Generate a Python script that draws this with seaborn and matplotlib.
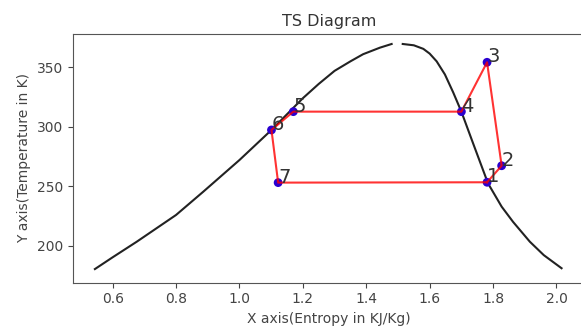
import matplotlib
matplotlib.use("Agg")
import matplotlib.pyplot as plt
import seaborn as sns
import pandas as pd

# Saturation dome
liq_s = [0.544, 0.60, 0.676, 0.80, 0.886, 1.00, 1.101, 1.20, 1.25, 1.30, 1.35, 1.39, 1.443, 1.48]
liq_T = [180.3, 190.2, 203.3, 225.8, 245.4, 272.0, 297.3, 324.0, 336.0, 347.0, 355.0, 361.0, 366.5, 369.6]
vap_s = [1.515, 1.55, 1.58, 1.60, 1.622, 1.648, 1.674, 1.70, 1.737, 1.784, 1.827, 1.863, 1.916, 1.96, 2.016]
vap_T = [369.6, 368.5, 365.5, 361.5, 355.0, 344.0, 329.0, 312.7, 286.0, 252.4, 232.8, 220.0, 203.3, 192.0, 181.0]

# Cycle points
pt_labels = ["1", "2", "3", "4", "5", "6", "7"]
pt_s = [1.781, 1.827, 1.781, 1.700, 1.170, 1.101, 1.122]
pt_T = [253.3, 267.2, 354.2, 312.7, 312.7, 297.3, 253.0]

fig = plt.figure(figsize=(5.81, 3.36), dpi=100)
ax = fig.add_axes([72.7 / 581, 1 - 282.5 / 336, 512 / 581, (282.5 - 34) / 336])

liq = pd.DataFrame({"s": liq_s, "T": liq_T})
vap = pd.DataFrame({"s": vap_s, "T": vap_T})
sns.lineplot(data=liq, x="s", y="T", sort=False, estimator=None, color="#222222", lw=1.5, ax=ax)
sns.lineplot(data=vap, x="s", y="T", sort=False, estimator=None, color="#222222", lw=1.5, ax=ax)

cyc = pd.DataFrame({"s": pt_s + [pt_s[0]], "T": pt_T + [pt_T[0]]})
sns.scatterplot(x=pt_s, y=pt_T, color="#2a00d0", s=40, edgecolor="none", zorder=3, ax=ax)
sns.lineplot(data=cyc, x="s", y="T", sort=False, estimator=None, color="red", lw=1.5,
             alpha=0.8, zorder=4, ax=ax)

for lab, s, t in zip(pt_labels, pt_s, pt_T):
    ax.text(s, t, lab, fontsize=14, color="#333333", zorder=5)

ax.set_xlim(0.474, 2.089)
ax.set_ylim(169, 378)
ax.set_xticks([0.6, 0.8, 1.0, 1.2, 1.4, 1.6, 1.8, 2.0])
ax.set_yticks([200, 250, 300, 350])
ax.tick_params(labelsize=10, colors="#444444")
for sp in ax.spines.values():
    sp.set_color("#555555")
ax.set_title("TS Diagram", fontsize=11.5, color="#333333")
ax.set_xlabel("X axis(Entropy in KJ/Kg)", fontsize=10, color="#444444")
ax.set_ylabel("Y axis(Temperature in K)", fontsize=10, color="#444444")

fig.savefig("out.png", dpi=100)
